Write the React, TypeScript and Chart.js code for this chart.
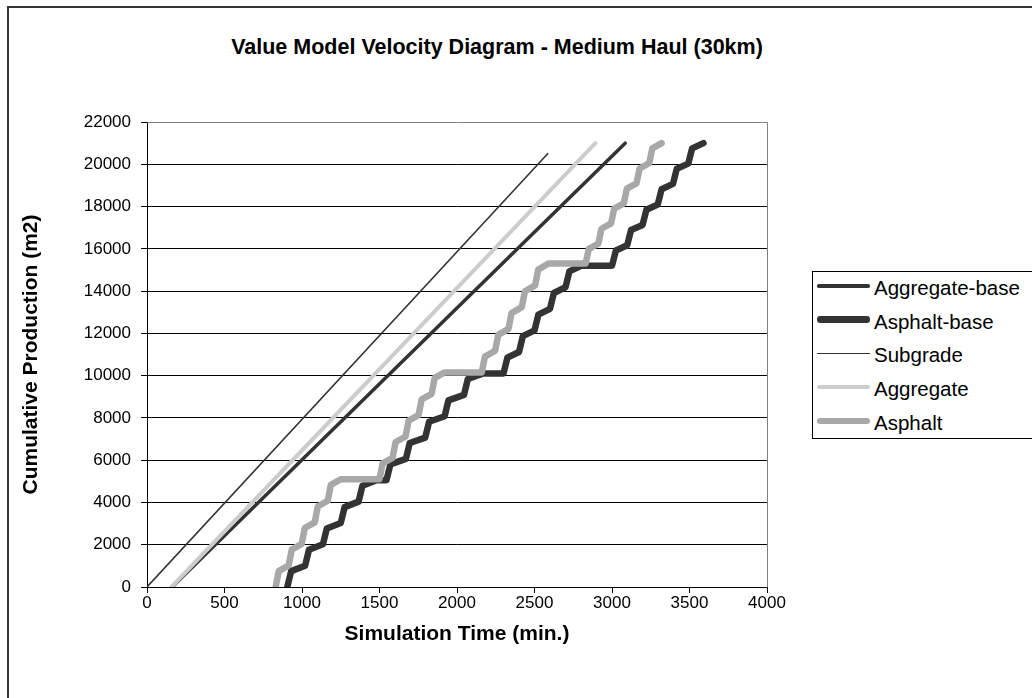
import React, { useEffect, useRef } from 'react';
import { Chart, registerables } from 'chart.js';

Chart.register(...registerables);

const chartTitle = 'Value Model Velocity Diagram - Medium Haul (30km)';
const xAxisTitle = 'Simulation Time (min.)';
const yAxisTitle = 'Cumulative Production (m2)';
const seriesNames = ['Aggregate-base', 'Asphalt-base', 'Subgrade', 'Aggregate', 'Asphalt'];

const xTickMin = 0;
const xTickMax = 4000;
const xTickStep = 500;
const yTickMin = 0;
const yTickMax = 22000;
const yTickStep = 2000;

const aggregateBaseX = [162, 3085];
const aggregateBaseY = [0, 21000];

const asphaltBaseX = [
  905, 930, 1020, 1045, 1135, 1160, 1250, 1275, 1365, 1390, 1480,
  1545,
  1570, 1670, 1695, 1795, 1820, 1920, 1945, 2045, 2070, 2170,
  2300,
  2325, 2400, 2425, 2500, 2525, 2600, 2625, 2700, 2725, 2800,
  3000,
  3025, 3098, 3123, 3197, 3222, 3295, 3320, 3393, 3418, 3492, 3517, 3590,
];
const asphaltBaseY = [
  0, 750, 1010, 1760, 2020, 2770, 3030, 3780, 4040, 4790, 5050,
  5050,
  5800, 6060, 6810, 7070, 7820, 8080, 8830, 9090, 9840, 10100,
  10100,
  10850, 11120, 11870, 12140, 12890, 13160, 13910, 14180, 14930, 15200,
  15200,
  15920, 16170, 16890, 17130, 17850, 18100, 18820, 19070, 19790, 20030, 20750, 21000,
];

const subgradeX = [0, 2585];
const subgradeY = [0, 20500];

const aggregateX = [158, 2893];
const aggregateY = [0, 21000];

const asphaltX = [
  830, 850, 914, 934, 998, 1018, 1082, 1102, 1166, 1186, 1250,
  1500,
  1520, 1584, 1604, 1668, 1688, 1752, 1772, 1836, 1856, 1920,
  2160,
  2180, 2246, 2266, 2332, 2352, 2418, 2438, 2504, 2524, 2590,
  2830,
  2850, 2912, 2932, 2994, 3014, 3076, 3096, 3158, 3178, 3240, 3260, 3320,
];
const asphaltY = [
  0, 750, 1020, 1770, 2040, 2790, 3060, 3810, 4080, 4830, 5100,
  5100,
  5850, 6110, 6860, 7120, 7870, 8130, 8880, 9140, 9890, 10150,
  10150,
  10900, 11180, 11930, 12210, 12960, 13240, 13990, 14270, 15020, 15300,
  15300,
  16000, 16250, 16950, 17200, 17900, 18150, 18850, 19100, 19800, 20050, 20750, 21000,
];

const seriesColors = ['#333333', '#333333', '#333333', '#cccccc', '#a8a8a8'];
const seriesWidths = [3.5, 6.5, 1.6, 4, 6.5];

const FONT = "Arial, 'Liberation Sans', sans-serif";

const toPoints = (xs: number[], ys: number[]) => xs.map((x, i) => ({ x, y: ys[i] }));

const seriesData = [
  toPoints(aggregateBaseX, aggregateBaseY),
  toPoints(asphaltBaseX, asphaltBaseY),
  toPoints(subgradeX, subgradeY),
  toPoints(aggregateX, aggregateY),
  toPoints(asphaltX, asphaltY),
];

const plotFrame = {
  id: 'plotFrame',
  beforeDatasetsDraw(chart: any) {
    const { ctx, chartArea } = chart;
    ctx.save();
    ctx.strokeStyle = '#808080';
    ctx.lineWidth = 1;
    ctx.beginPath();
    const l = Math.round(chartArea.left) + 0.5;
    const r = Math.round(chartArea.right) + 0.5;
    const t = Math.round(chartArea.top) + 0.5;
    const b = Math.round(chartArea.bottom) + 0.5;
    ctx.moveTo(l, t);
    ctx.lineTo(r, t);
    ctx.lineTo(r, b);
    ctx.stroke();
    ctx.restore();
  },
};

export default function App() {
  const canvasRef = useRef<HTMLCanvasElement | null>(null);

  useEffect(() => {
    if (!canvasRef.current) return;
    const chart = new Chart(canvasRef.current, {
      type: 'scatter',
      data: {
        datasets: seriesNames.map((name, i) => ({
          label: name,
          data: seriesData[i],
          showLine: true,
          borderColor: seriesColors[i],
          backgroundColor: seriesColors[i],
          borderWidth: seriesWidths[i],
          pointRadius: 0,
          pointHoverRadius: 0,
          tension: 0,
          fill: false,
          borderJoinStyle: 'round',
          borderCapStyle: 'round',
          order: seriesNames.length - 1 - i,
        })),
      },
      options: {
        responsive: false,
        animation: false,
        events: [],
        layout: { padding: { left: 0, top: 122, right: 265, bottom: 41 } },
        plugins: {
          legend: { display: false },
          tooltip: { enabled: false },
          title: { display: false },
        },
        scales: {
          x: {
            type: 'linear',
            min: xTickMin,
            max: xTickMax,
            ticks: {
              stepSize: xTickStep,
              autoSkip: false,
              maxRotation: 0,
              padding: 0,
              color: '#000',
              font: { family: FONT, size: 17 },
              callback: (v: any) => String(v),
            },
            grid: {
              drawOnChartArea: false,
              drawTicks: true,
              tickLength: 6,
              tickColor: '#000',
            },
            border: { color: '#000', width: 1 },
            title: {
              display: true,
              text: xAxisTitle,
              color: '#000',
              font: { family: FONT, size: 21, weight: 'bold' },
              padding: { top: 0, bottom: 10 },
            },
            afterFit: (s: any) => {
              s.height = 70;
            },
          },
          y: {
            type: 'linear',
            min: yTickMin,
            max: yTickMax,
            ticks: {
              stepSize: yTickStep,
              autoSkip: false,
              padding: 10,
              color: '#000',
              font: { family: FONT, size: 17 },
              callback: (v: any) => String(v),
            },
            grid: {
              color: (c: any) => (c.tick && c.tick.value === yTickMax ? 'rgba(0,0,0,0)' : '#000'),
              tickColor: '#000',
              tickLength: 6,
              drawTicks: true,
            },
            border: { color: '#000', width: 1 },
            title: {
              display: true,
              text: yAxisTitle,
              color: '#000',
              font: { family: FONT, size: 21, weight: 'bold' },
              padding: { top: 19, bottom: 0 },
            },
            afterFit: (s: any) => {
              s.width = 147;
            },
          },
        },
      },
      plugins: [plotFrame],
    } as any);
    return () => chart.destroy();
  }, []);

  return (
    <div
      style={{
        position: 'fixed',
        left: 0,
        top: 0,
        width: 1032,
        height: 698,
        overflow: 'hidden',
        background: '#fff',
        fontFamily: FONT,
      }}
    >
      <div
        style={{
          position: 'absolute',
          left: 7,
          top: 6,
          width: 1100,
          height: 760,
          border: '2px solid #333',
          boxSizing: 'border-box',
        }}
      />
      <div
        style={{
          position: 'absolute',
          left: 0,
          top: 34,
          width: 994,
          textAlign: 'center',
          fontWeight: 'bold',
          fontSize: 21.5,
          lineHeight: '26px',
          color: '#000',
          whiteSpace: 'nowrap',
        }}
      >
        {chartTitle}
      </div>
      <canvas
        ref={canvasRef}
        width={1032}
        height={698}
        style={{ position: 'absolute', left: 0, top: 0, width: 1032, height: 698 }}
      />
      <div
        style={{
          position: 'absolute',
          left: 812,
          top: 271,
          width: 300,
          height: 168,
          border: '1px solid #000',
          boxSizing: 'border-box',
          background: '#fff',
        }}
      >
        {seriesNames.map((name, i) => {
          const rowTop = 4 + 33.7 * i;
          const lineCenter = rowTop + 10;
          const h = seriesWidths[i];
          return (
            <React.Fragment key={name}>
              <div
                style={{
                  position: 'absolute',
                  left: 4,
                  top: lineCenter - h / 2,
                  width: 53,
                  height: h,
                  borderRadius: h / 2,
                  background: seriesColors[i],
                }}
              />
              <div
                style={{
                  position: 'absolute',
                  left: 61,
                  top: rowTop,
                  fontSize: 20.5,
                  lineHeight: '24px',
                  color: '#000',
                  whiteSpace: 'nowrap',
                }}
              >
                {name}
              </div>
            </React.Fragment>
          );
        })}
      </div>
    </div>
  );
}
